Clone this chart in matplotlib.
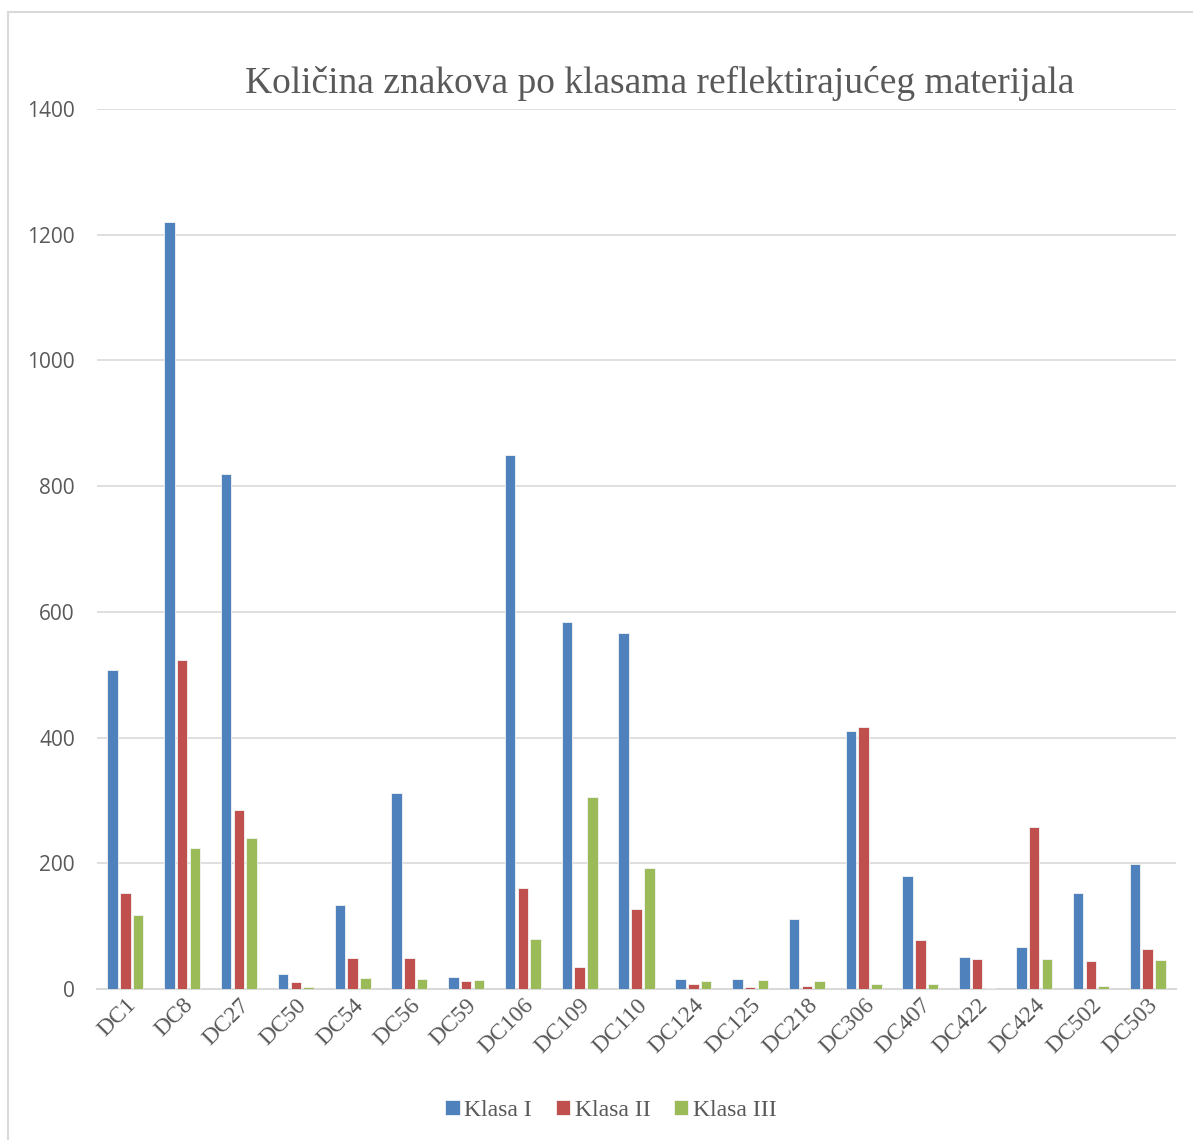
import matplotlib
matplotlib.use("Agg")
import matplotlib.pyplot as plt
import matplotlib.patches as patches
import numpy as np

categories = ["DC1", "DC8", "DC27", "DC50", "DC54", "DC56", "DC59", "DC106",
              "DC109", "DC110", "DC124", "DC125", "DC218", "DC306", "DC407",
              "DC422", "DC424", "DC502", "DC503"]
klasa_1 = [508, 1220, 820, 24, 133, 312, 19, 849, 584, 566, 16, 16, 111, 410,
           179, 51, 67, 153, 199]
klasa_2 = [153, 523, 285, 11, 49, 50, 13, 161, 35, 127, 8, 3, 4, 417,
           78, 48, 258, 44, 64]
klasa_3 = [118, 225, 240, 3, 17, 16, 14, 80, 306, 193, 13, 14, 13, 8,
           8, 1, 47, 4, 46]
series_names = ["Klasa I", "Klasa II", "Klasa III"]
y_ticks = [0, 200, 400, 600, 800, 1000, 1200, 1400]

colors = ["#4F81BD", "#C0504D", "#9BBB59"]
grey_text = "#595959"
grid_c = "#D9D9D9"

fig = plt.figure(figsize=(11.93, 11.4), dpi=100)
W, H = 1193, 1140

# chart frame (Excel chart area border)
frame = patches.Rectangle((8 / W, -0.01), 1.1, 1 - 12 / H + 0.01,
                          transform=fig.transFigure, fill=False,
                          edgecolor="#D9D9D9", linewidth=1.5)
fig.patches.append(frame)

ax = fig.add_axes([97 / W, 1 - 989 / H, (1176 - 97) / W, (989 - 109) / H])

x = np.arange(len(categories))
bw = 0.185
offs = [-0.225, 0, 0.225]
for vals, off, c, name in zip([klasa_1, klasa_2, klasa_3], offs, colors, series_names):
    ax.bar(x + off, vals, width=bw, color=c, edgecolor="#f4f4f4",
           linewidth=0.6, label=name, zorder=3)

ax.set_xlim(-0.5, len(categories) - 0.5)
ax.set_ylim(0, 1400)
ax.set_yticks(y_ticks)
ax.set_yticklabels([str(v) for v in y_ticks], fontsize=15, color=grey_text,
                   family="Open Sans")
ax.yaxis.grid(True, color=grid_c, linewidth=1.2, zorder=0)
ax.tick_params(axis="y", length=0, pad=16)
ax.tick_params(axis="x", length=0, pad=4)

ax.set_xticks(x)
ax.set_xticklabels(categories, rotation=45, ha="right", va="top",
                   rotation_mode="anchor", fontsize=17, color=grey_text,
                   family="Liberation Serif")

for s in ["top", "right", "left"]:
    ax.spines[s].set_visible(False)
ax.spines["bottom"].set_color(grid_c)
ax.spines["bottom"].set_linewidth(1.5)

fig.text(660 / W, 1 - 83 / H, "Količina znakova po klasama reflektirajućeg materijala",
         ha="center", va="center", fontsize=27, color=grey_text,
         family="Liberation Serif")

leg = fig.legend(loc="center", bbox_to_anchor=(611 / W, 1 - 1110 / H), ncol=3,
                 frameon=False, handlelength=0.6, handleheight=0.6,
                 handletextpad=0.2, columnspacing=1.0,
                 prop={"family": "Liberation Serif", "size": 17})
for t in leg.get_texts():
    t.set_color(grey_text)

fig.savefig("out.png", dpi=100)
